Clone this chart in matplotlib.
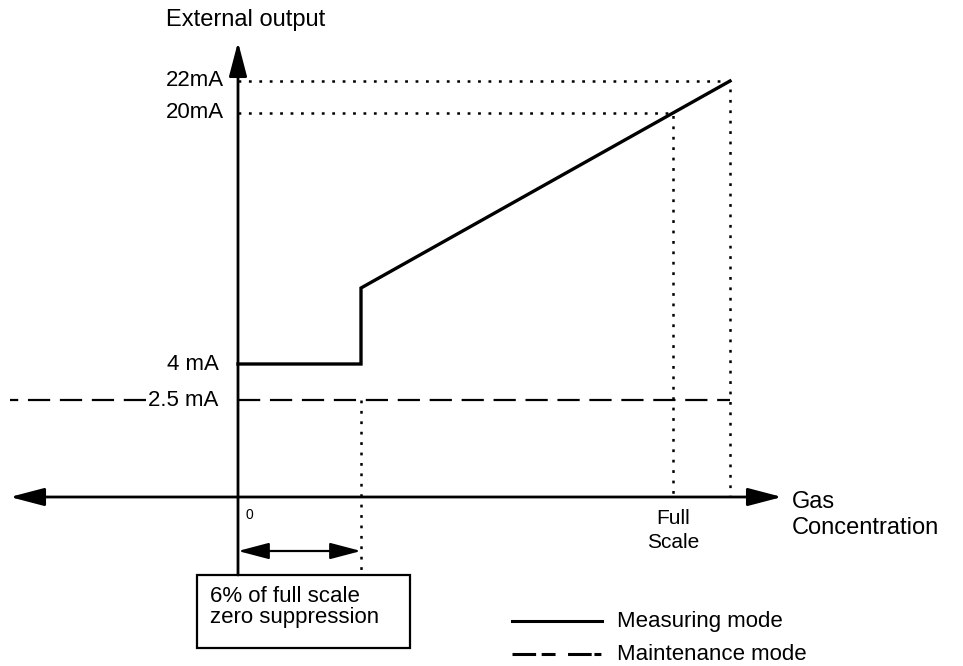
import matplotlib.pyplot as plt
from matplotlib.patches import FancyArrowPatch, Rectangle

plt.rcParams['font.family'] = ['Liberation Sans', 'DejaVu Sans']
plt.rcParams['lines.scale_dashes'] = False

# diagram units: origin where the two axes cross
level_labels = ['22mA', '20mA', '4 mA', '2.5 mA']
level_y = [416, 384, 133, 97]
label_right = [-14, -14, -19, -20]
suppress_x = 123          # end of zero suppression band
full_scale_x = 435
max_x = 492
measuring_x = [0, 123, 123, 492]
measuring_y = [133, 133, 209, 416]
maintenance_x = [0, 492]
maintenance_left_x = [-92, -228]   # drawn right to left so a dash meets the label
dotted_20 = ([0, full_scale_x, full_scale_x], [384, 384, 0])
dotted_22 = ([0, max_x, max_x], [416, 416, 0])
dotted_zs = ([suppress_x, suppress_x], [97, -78])

fig = plt.figure(figsize=(9.63, 6.66), dpi=100)
ax = fig.add_axes([0, 0, 1, 1])
ax.set_xlim(-238, 725)
ax.set_ylim(-169, 497)
ax.axis('off')

dot = (0, (2, 5.5))
dash = (0, (16, 7))

ax.plot(*dotted_22, color='black', lw=1.8, linestyle=dot)
ax.plot(*dotted_20, color='black', lw=1.8, linestyle=dot)
ax.plot(*dotted_zs, color='black', lw=1.8, linestyle=dot)

ax.plot(maintenance_x, [level_y[3]] * 2, color='black', lw=1.6, linestyle=dash)
ax.plot(maintenance_left_x, [level_y[3]] * 2, color='black', lw=1.6, linestyle=dash)
ax.plot(measuring_x, measuring_y, color='black', lw=2.4, solid_joinstyle='miter')

# axes arrows
ax.add_patch(FancyArrowPatch((0, -78), (0, 455), arrowstyle='-|>,head_length=21,head_width=5.5',
                             mutation_scale=1, lw=2, color='black', shrinkA=0, shrinkB=0))
ax.add_patch(FancyArrowPatch((-228, 0), (544, 0), arrowstyle='<|-|>,head_length=21,head_width=5.5',
                             mutation_scale=1, lw=2, color='black', shrinkA=0, shrinkB=0))
ax.add_patch(FancyArrowPatch((0, -54), (suppress_x, -54), arrowstyle='<|-|>,head_length=19,head_width=5',
                             mutation_scale=1, lw=1.6, color='black', shrinkA=0, shrinkB=0))

ax.add_patch(Rectangle((-41, -151), 213, 73, fill=False, lw=1.6, edgecolor='black'))

for lab, y, xr in zip(level_labels, level_y, label_right):
    ax.text(xr, y, lab, ha='right', va='center', fontsize=16)

ax.text(-72, 477, 'External output', ha='left', va='center', fontsize=17)
ax.text(7, -18, '0', ha='left', va='center', fontsize=10)
ax.text(full_scale_x, -12, 'Full\nScale', ha='center', va='top', fontsize=15, linespacing=1.3)
ax.text(554, -18, 'Gas\nConcentration', ha='left', va='center', fontsize=17, linespacing=1.2)
ax.text(-28, -110, '6% of full scale\nzero suppression', ha='left', va='center', fontsize=16,
        linespacing=1.0)

# legend
ax.plot([274, 364], [-124, -124], color='black', lw=2.2)
ax.plot([274, 364], [-157, -157], color='black', lw=2.2,
        linestyle=(0, (17, 4, 10, 9, 17, 2, 5)))
ax.text(379, -124, 'Measuring mode', ha='left', va='center', fontsize=16)
ax.text(379, -157, 'Maintenance mode', ha='left', va='center', fontsize=16)

fig.savefig('out.png', dpi=100)
